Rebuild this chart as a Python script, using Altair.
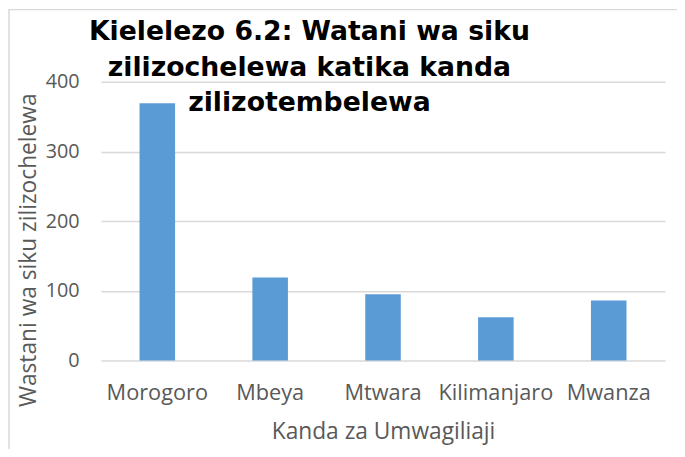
import altair as alt
import pandas as pd

categories = ["Morogoro", "Mbeya", "Mtwara", "Kilimanjaro", "Mwanza"]
values = [369, 119, 95, 62, 86]
title_lines = ["Kielelezo 6.2: Watani wa siku", "zilizochelewa katika kanda", "zilizotembelewa"]
y_ticks = [0, 100, 200, 300, 400]

df = pd.DataFrame({"kanda": categories, "siku": values})

W, H = 571, 282
PL, PT, PR, PB = 94, 72, 12, 87

base = alt.Chart(df)

bars = base.mark_bar(color="#5B9BD5").encode(
    x=alt.X("kanda:N", sort=categories,
            scale=alt.Scale(paddingInner=0.685, paddingOuter=0.3425),
            axis=alt.Axis(title="Kanda za Umwagiliaji", labelAngle=0, ticks=False,
                          domain=False, labelPadding=23, titlePadding=17,
                          labelFontSize=22, titleFontSize=23,
                          labelColor="#595959", titleColor="#595959",
                          labelFont="Open Sans", titleFont="Open Sans",
                          titleFontWeight="normal")),
    y=alt.Y("siku:Q", scale=alt.Scale(domain=[0, 400], nice=False),
            axis=alt.Axis(title="Wastani wa siku zilizochelewa", values=y_ticks,
                          ticks=False, domain=False, labelPadding=22,
                          labelFontSize=20, titleFontSize=23,
                          labelColor="#595959", titleColor="#595959",
                          labelFont="Open Sans", titleFont="Open Sans",
                          titleFontWeight="normal",
                          titleAngle=270, titleAlign="center", titleBaseline="middle",
                          titleX=-(8 + PL - 29), titleY=H / 2 + 29,
                          gridColor="#d9d9d9", gridWidth=1.5)),
)

title = alt.Chart(pd.DataFrame({"t": [0]})).mark_text(
    font="DejaVu Sans", fontWeight="bold", fontSize=27,
    color="#000000", align="center", baseline="middle", lineHeight=36,
).encode(
    x=alt.value(313 - 8 - PL),
    y=alt.value(30 - 8 - PT),
    text=alt.value(title_lines),
)

border = alt.Chart(pd.DataFrame({"t": [0]})).mark_rect(
    fill=None, stroke="#d9d9d9", strokeWidth=1.5
).encode(
    x=alt.value(-PL + 1), x2=alt.value(W + PR + 5),
    y=alt.value(-PT - 1), y2=alt.value(H + PB + 5),
)

chart = alt.layer(border, bars, title).properties(
    width=W, height=H,
    autosize=alt.AutoSizeParams(type="none"),
    padding={"left": PL, "top": PT, "right": PR, "bottom": PB},
    background="white",
).configure_view(stroke=None)

chart.save("out.html", embed_options={"renderer": "svg", "actions": False})
